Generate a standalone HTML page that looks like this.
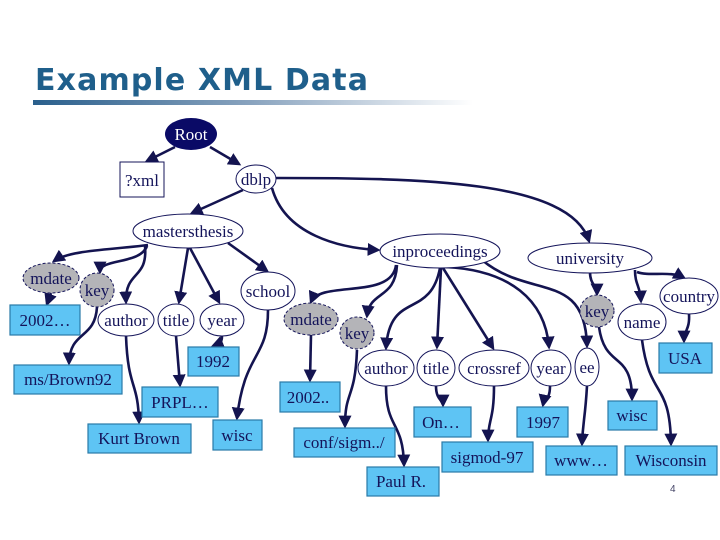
<!DOCTYPE html>
<html><head><meta charset="utf-8"><style>
html,body{margin:0;padding:0;background:#fff;}
svg{display:block;}
.t{font-family:"Liberation Serif",serif;font-size:17px;fill:#14145a;text-anchor:middle;}
.e{fill:#fff;stroke:#14145a;stroke-width:1;}
.g{fill:#b4b4b8;stroke:#14145a;stroke-width:1;stroke-dasharray:3 2;}
.b{fill:#5ec4f4;stroke:#2a7aa8;stroke-width:1.2;}
.l{fill:none;stroke:#141450;stroke-width:2.6;marker-end:url(#a);}
</style></head><body>
<svg width="720" height="540" viewBox="0 0 720 540" xmlns="http://www.w3.org/2000/svg">
<defs>
<marker id="a" markerWidth="5" markerHeight="5" refX="4" refY="2.5" orient="auto" markerUnits="strokeWidth"><path d="M0,0 L5,2.5 L0,5 z" fill="#141450"/></marker>
<linearGradient id="u" x1="0" x2="1"><stop offset="0" stop-color="#2a5f8c"/><stop offset="0.5" stop-color="#8aa4bf"/><stop offset="1" stop-color="#fff"/></linearGradient>
</defs>
<text x="35" y="90" style="font-family:'DejaVu Sans','Liberation Sans',sans-serif;font-weight:bold;font-size:30px;fill:#1f5f8b" textLength="333">Example XML Data</text>
<rect x="33" y="100" width="440" height="5" fill="url(#u)"/>

<!-- edges -->
<path class="l" d="M175,147 L147,161"/>
<path class="l" d="M210,147 L239,164"/>
<path class="l" d="M243,190 L192,213"/>
<path class="l" d="M272,188 C285,235 340,248 378,250"/>
<path class="l" d="M276,178 C420,178 570,180 589,241"/>
<path class="l" d="M148,245 C110,250 70,250 54,261"/>
<path class="l" d="M147,246 C140,265 100,258 100,272"/>
<path class="l" d="M145,246 C148,280 125,270 126,302"/>
<path class="l" d="M188,248 L179,302"/>
<path class="l" d="M190,248 L219,302"/>
<path class="l" d="M228,243 L267,271"/>
<path class="l" d="M51,293 L47,304"/>
<path class="l" d="M97,307 C95,340 70,330 69,363"/>
<path class="l" d="M126,336 C128,390 138,380 139,422"/>
<path class="l" d="M176,336 L180,385"/>
<path class="l" d="M222,336 C222,344 218,344 213,346"/>
<path class="l" d="M268,310 C268,360 245,350 237,418"/>
<path class="l" d="M396,265 C392,300 320,280 311,302"/>
<path class="l" d="M397,265 C395,300 370,290 367,316"/>
<path class="l" d="M440,268 C430,320 390,290 386,348"/>
<path class="l" d="M441,268 L437,347"/>
<path class="l" d="M443,268 L493,348"/>
<path class="l" d="M445,267 C510,270 545,300 549,347"/>
<path class="l" d="M482,260 C530,300 585,270 587,346"/>
<path class="l" d="M590,272 C590,285 597,285 597,294"/>
<path class="l" d="M635,270 C635,285 640,285 641,301"/>
<path class="l" d="M637,272 C650,277 670,270 684,278"/>
<path class="l" d="M689,314 C690,330 684,330 684,341"/>
<path class="l" d="M599,327 C605,370 632,350 632,399"/>
<path class="l" d="M642,340 C650,400 670,380 671,444"/>
<path class="l" d="M311,335 L310,380"/>
<path class="l" d="M357,350 C355,400 345,390 345,426"/>
<path class="l" d="M386,386 C386,430 403,420 404,465"/>
<path class="l" d="M436,386 C436,400 443,400 443,405"/>
<path class="l" d="M494,386 C494,420 488,420 488,440"/>
<path class="l" d="M550,386 C550,400 544,400 543,405"/>
<path class="l" d="M587,386 C585,420 583,420 582,444"/>

<!-- nodes -->
<ellipse cx="191" cy="134" rx="26" ry="16" fill="#0a0a66"/>
<text class="t" x="191" y="140" style="fill:#fff">Root</text>
<rect class="e" x="120" y="162" width="44" height="35"/><text class="t" x="142" y="186">?xml</text>
<ellipse class="e" cx="256" cy="179" rx="20" ry="14"/><text class="t" x="256" y="185">dblp</text>
<ellipse class="e" cx="188" cy="231" rx="55" ry="17"/><text class="t" x="188" y="237">mastersthesis</text>
<ellipse class="g" cx="51" cy="278" rx="28" ry="15"/><text class="t" x="51" y="284">mdate</text>
<ellipse class="g" cx="97" cy="290" rx="17" ry="17"/><text class="t" x="97" y="296">key</text>
<ellipse class="e" cx="126" cy="320" rx="28" ry="16"/><text class="t" x="126" y="326">author</text>
<ellipse class="e" cx="176" cy="320" rx="18" ry="16"/><text class="t" x="176" y="326">title</text>
<ellipse class="e" cx="222" cy="320" rx="22" ry="16"/><text class="t" x="222" y="326">year</text>
<ellipse class="e" cx="268" cy="291" rx="27" ry="19"/><text class="t" x="268" y="297">school</text>
<ellipse class="g" cx="311" cy="319" rx="27" ry="16"/><text class="t" x="311" y="325">mdate</text>
<ellipse class="g" cx="357" cy="333" rx="17" ry="16"/><text class="t" x="357" y="339">key</text>
<ellipse class="e" cx="440" cy="251" rx="60" ry="17"/><text class="t" x="440" y="257">inproceedings</text>
<ellipse class="e" cx="590" cy="258" rx="62" ry="15"/><text class="t" x="590" y="264">university</text>
<ellipse class="e" cx="386" cy="368" rx="28" ry="18"/><text class="t" x="386" y="374">author</text>
<ellipse class="e" cx="436" cy="368" rx="19" ry="18"/><text class="t" x="436" y="374">title</text>
<ellipse class="e" cx="494" cy="368" rx="35" ry="18"/><text class="t" x="494" y="374">crossref</text>
<ellipse class="e" cx="551" cy="368" rx="20" ry="18"/><text class="t" x="551" y="374">year</text>
<ellipse class="e" cx="587" cy="367" rx="12" ry="19"/><text class="t" x="587" y="373">ee</text>
<ellipse class="g" cx="597" cy="311" rx="17" ry="16"/><text class="t" x="597" y="317">key</text>
<ellipse class="e" cx="642" cy="322" rx="24" ry="18"/><text class="t" x="642" y="328">name</text>
<ellipse class="e" cx="689" cy="296" rx="29" ry="18"/><text class="t" x="689" y="302">country</text>

<rect class="b" x="10" y="305" width="70" height="30"/><text class="t" x="45" y="326">2002…</text>
<rect class="b" x="14" y="365" width="108" height="29"/><text class="t" x="68" y="385">ms/Brown92</text>
<rect class="b" x="188" y="347" width="51" height="29"/><text class="t" x="213" y="367">1992</text>
<rect class="b" x="142" y="387" width="76" height="30"/><text class="t" x="180" y="408">PRPL…</text>
<rect class="b" x="88" y="424" width="103" height="29"/><text class="t" x="139" y="444">Kurt Brown</text>
<rect class="b" x="213" y="420" width="49" height="30"/><text class="t" x="237" y="441">wisc</text>
<rect class="b" x="280" y="382" width="60" height="30"/><text class="t" x="308" y="403">2002..</text>
<rect class="b" x="294" y="428" width="101" height="29"/><text class="t" x="344" y="448">conf/sigm../</text>
<rect class="b" x="367" y="467" width="72" height="29"/><text class="t" x="401" y="487">Paul R.</text>
<rect class="b" x="414" y="407" width="57" height="30"/><text class="t" x="441" y="428">On…</text>
<rect class="b" x="442" y="442" width="91" height="30"/><text class="t" x="487" y="463">sigmod-97</text>
<rect class="b" x="517" y="407" width="51" height="30"/><text class="t" x="543" y="428">1997</text>
<rect class="b" x="546" y="446" width="71" height="29"/><text class="t" x="581" y="466">www…</text>
<rect class="b" x="608" y="401" width="49" height="29"/><text class="t" x="632" y="421">wisc</text>
<rect class="b" x="625" y="446" width="92" height="29"/><text class="t" x="671" y="466">Wisconsin</text>
<rect class="b" x="659" y="343" width="53" height="30"/><text class="t" x="685" y="364">USA</text>

<text x="670" y="492" style="font-family:'Liberation Sans',sans-serif;font-size:10px;fill:#446">4</text>
</svg>
</body></html>
